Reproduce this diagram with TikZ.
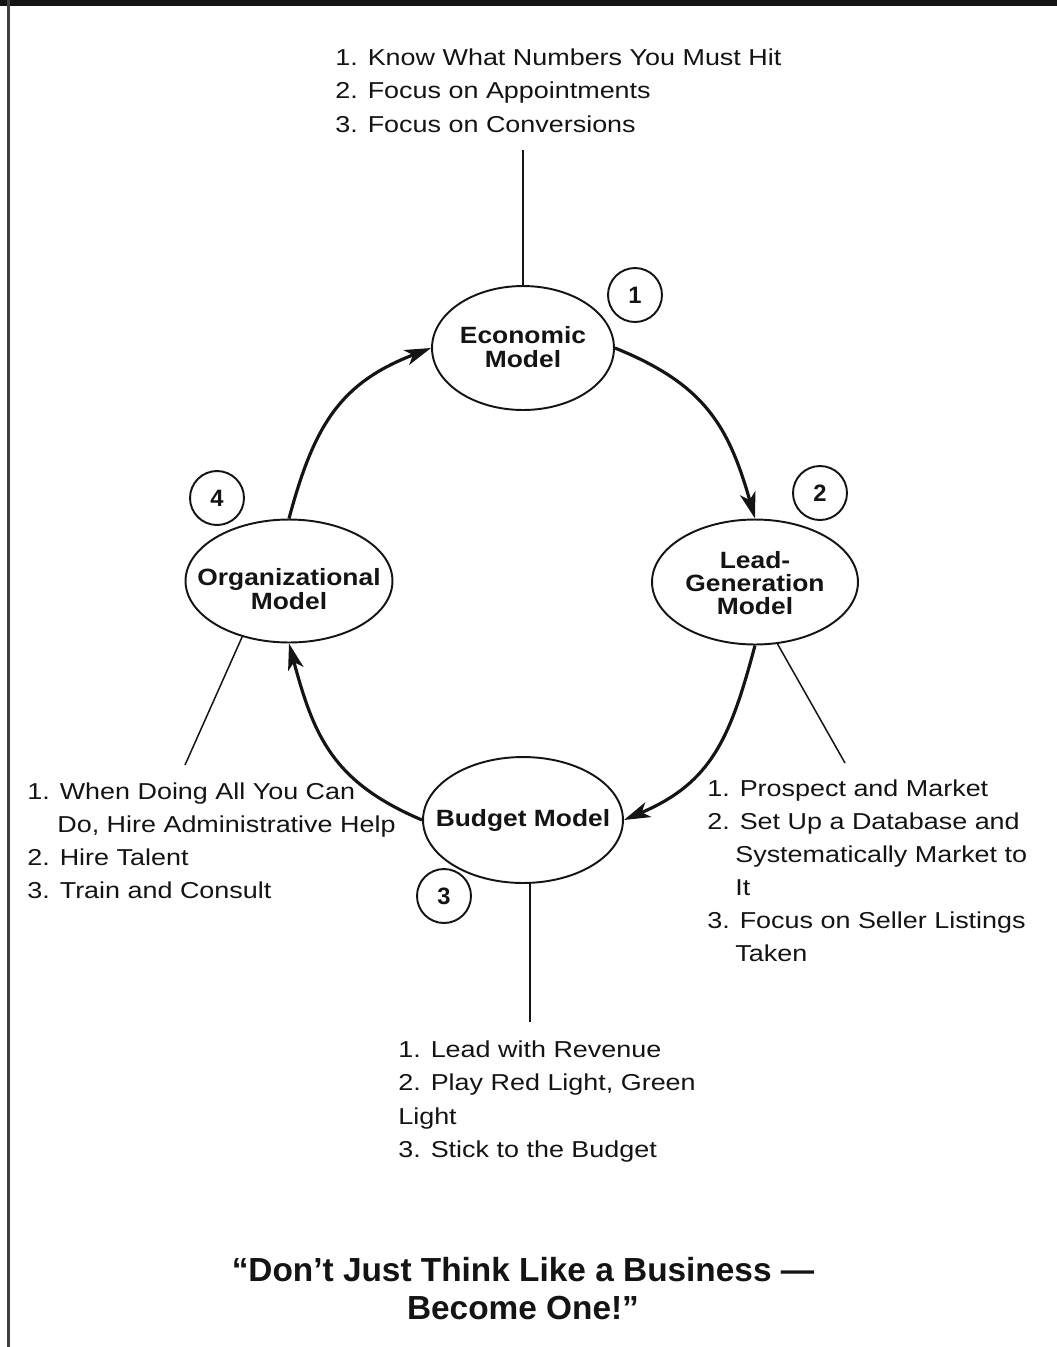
\documentclass[tikz,border=0pt]{standalone}
\usepackage{fontspec}
\usetikzlibrary{shapes.geometric,arrows.meta}
\newfontfamily\listfont[FakeStretch=1.17]{Liberation Sans}
\newfontfamily\labelfont[FakeStretch=1.12]{Liberation Sans}
\newfontfamily\quotefont{Liberation Sans}
\definecolor{ink}{HTML}{141414}

\tikzset{
  model/.style={ellipse, draw=ink, line width=1.1pt, inner sep=0pt},
  modeltext/.style={align=center, inner sep=0pt, text=ink,
    font=\labelfont\bfseries\fontsize{13.4}{13.2}\selectfont},
  numcircle/.style={circle, draw=ink, line width=1.1pt, inner sep=0pt,
    minimum size=1.08cm, text=ink, font=\quotefont\bfseries\fontsize{13.5}{14}\selectfont},
  cycle/.style={draw=ink, line width=1.8pt, looseness=1.12,
    -{Stealth[length=15pt, width=9pt, inset=4pt]}},
  leader/.style={draw=ink, line width=0.85pt},
  listline/.style={anchor=base west, inner sep=0pt, text=ink,
    font=\listfont\fontsize{13.1}{18.7}\selectfont},
  quoteline/.style={anchor=base, inner sep=0pt, text=ink,
    font=\quotefont\bfseries\fontsize{19}{21.5}\selectfont}
}

\begin{document}
\begin{tikzpicture}[x=0.02cm, y=-0.02cm]
  \useasboundingbox (0,0) rectangle (1057,1347);
  \fill[white] (0,0) rectangle (1057,1347);

  % frame: heavy top rule and left edge
  \fill[ink] (0,0) rectangle (1057,6);
  \fill[black!75] (7,0) rectangle (9.5,1347);

  % the four models
  \node[model, minimum width=3.64cm, minimum height=2.48cm] (econ) at (523,348) {};
  \node[model, minimum width=4.12cm, minimum height=2.50cm] (lead) at (755,582) {};
  \node[model, minimum width=4.00cm, minimum height=2.52cm] (budget) at (523,820) {};
  \node[model, minimum width=4.14cm, minimum height=2.46cm] (org) at (289,581) {};

  \node[modeltext] (econtext) at (523,347) {Economic\\Model};
  \node[modeltext] (leadtext) at (755,583) {Lead-\\Generation\\Model};
  \node[modeltext] (budgettext) at (523,820) {Budget Model};
  \node[modeltext] (orgtext) at (289,589) {Organizational\\Model};

  % step numbers
  \node[numcircle] (n1) at (635,295) {1};
  \node[numcircle] (n2) at (820,493) {2};
  \node[numcircle] (n3) at (444,896) {3};
  \node[numcircle] (n4) at (217,498) {4};

  % the cycle
  \draw[cycle] (econ.east) to[out=-22, in=106] (lead.north);
  \draw[cycle] (lead.south) to[out=-105, in=23] (budget.east);
  \draw[cycle] (budget.west) to[out=157, in=-75] (org.south);
  \draw[cycle] (org.north) to[out=75, in=-159] (econ.west);

  % leader lines to the lists
  \coordinate (econlist) at (523,150);
  \coordinate (leadlist) at (845,763);
  \coordinate (orglist) at (185,765);
  \coordinate (budgetlist) at (530,1022);
  \draw[leader] (econ.north) -- (econlist);
  \draw[leader] (lead.-70) -- (leadlist);
  \draw[leader] (org.-130) -- (orglist);
  \draw[leader] (budget.south -| budgetlist) -- (budgetlist);

  % economic model list
  \node[listline] (e1) at (335,65) {1. Know What Numbers You Must Hit};
  \node[listline] (e2) at (335,98) {2. Focus on Appointments};
  \node[listline] (e3) at (335,132) {3. Focus on Conversions};

  % lead-generation model list
  \node[listline] (l1) at (707,796) {1. Prospect and Market};
  \node[listline] (l2) at (707,829) {2. Set Up a Database and};
  \node[listline] (l2b) at (735,862) {Systematically Market to};
  \node[listline] (l2c) at (735,895) {It};
  \node[listline] (l3) at (707,928) {3. Focus on Seller Listings};
  \node[listline] (l3b) at (735,961) {Taken};

  % organizational model list
  \node[listline] (o1) at (27,799) {1. When Doing All You Can};
  \node[listline] (o1b) at (57,832) {Do, Hire Administrative Help};
  \node[listline] (o2) at (27,865) {2. Hire Talent};
  \node[listline] (o3) at (27,898) {3. Train and Consult};

  % budget model list
  \node[listline] (b1) at (398,1057) {1. Lead with Revenue};
  \node[listline] (b2) at (398,1090) {2. Play Red Light, Green};
  \node[listline] (b2b) at (398,1124) {Light};
  \node[listline] (b3) at (398,1157) {3. Stick to the Budget};

  % motto
  \node[quoteline] (q1) at (523,1281) {“Don’t Just Think Like a Business —};
  \node[quoteline] (q2) at (523,1319) {Become One!”};
\end{tikzpicture}
\end{document}
